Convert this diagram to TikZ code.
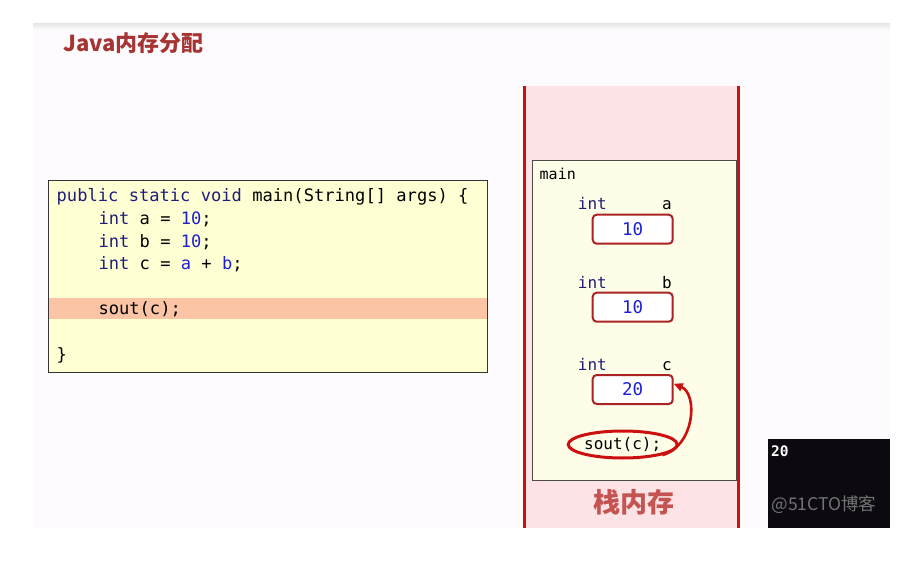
\documentclass[tikz,border=0pt]{standalone}
\usepackage{fontspec}
\setmonofont{DejaVu Sans Mono}
\newfontfamily\cjkfont{Noto Sans CJK SC}
\usetikzlibrary{shapes.geometric, arrows.meta}

\definecolor{slidebg}{RGB}{253,251,254}
\definecolor{titlered}{RGB}{166,52,50}
\definecolor{codebg}{RGB}{255,255,212}
\definecolor{hilite}{RGB}{251,196,164}
\definecolor{kwnavy}{RGB}{30,30,120}
\definecolor{numblue}{RGB}{30,30,215}
\definecolor{stackpink}{RGB}{253,227,229}
\definecolor{stackred}{RGB}{204,16,16}
\definecolor{framebg}{RGB}{254,254,232}
\definecolor{boxred}{RGB}{170,34,34}
\definecolor{labelred}{RGB}{196,84,82}
\definecolor{consolebg}{RGB}{12,10,16}

\newcommand{\kwd}[1]{\textcolor{kwnavy}{#1}}
\newcommand{\lit}[1]{\textcolor{numblue}{#1}}

\begin{document}
\begin{tikzpicture}[x=1pt, y=-1pt,
    code/.style={anchor=base west, inner sep=0pt, font=\ttfamily\fontsize{17.1}{20}\selectfont},
    small/.style={anchor=base west, inner sep=0pt, font=\ttfamily\fontsize{16}{18}\selectfont},
    valbox/.style={draw=boxred, line width=2pt, rounded corners=4pt, fill=white,
        minimum width=80pt, minimum height=29pt, inner sep=0pt,
        font=\ttfamily\fontsize{17.5}{19}\selectfont, text=numblue}]

    % slide
    \useasboundingbox (0,0) rectangle (911,564);
    \fill[white] (0,0) rectangle (911,564);
    \fill[slidebg] (33,24) rectangle (890,527.5);
    \shade[top color=black!9, bottom color=slidebg] (33,24) rectangle (890,30);

    \node[anchor=base west, inner sep=0pt, text=titlered,
        font=\cjkfont\bfseries\fontsize{22}{25}\selectfont] (title) at (63,51.5) {Java内存分配};

    % code
    \node[draw=black!80, fill=codebg, line width=1.4pt, anchor=north west, inner sep=0pt,
        minimum width=439.5pt, minimum height=191.5pt] (codebox) at (47.5,180) {};
    \fill[hilite] (48.5,298) rectangle (486.5,319);

    \node[code] (line1) at (56.5,202) {\kwd{public static void} main(String[] args) \{};
    \node[code] (line2) at (98.3,224.6) {\kwd{int} a = \lit{10};};
    \node[code] (line3) at (98.3,247.2) {\kwd{int} b = \lit{10};};
    \node[code] (line4) at (98.3,269.8) {\kwd{int} c = \lit{a} + \lit{b};};
    \node[code] (line5) at (98.3,315) {sout(c);};
    \node[code] (line6) at (56.5,360) {\}};

    % stack
    \fill[stackpink] (525,86) rectangle (739,527.5);
    \draw[stackred, line width=2.7pt] (524.7,86) -- (524.7,527.5);
    \draw[stackred, line width=2.7pt] (738.7,86) -- (738.7,527.5);

    \node[draw=black!70, fill=framebg, line width=1pt, anchor=north west, inner sep=0pt,
        minimum width=203.5pt, minimum height=319.5pt] (mainframe) at (532,160) {};
    \node[small, font=\ttfamily\fontsize{15}{17}\selectfont] (framename) at (539.5,180) {main};

    \node[small] (inta) at (577.7,210) {\kwd{int}};
    \node[small, anchor=base east] (namea) at (672,210) {a};
    \node[valbox] (vala) at (632.7,229.2) {10};

    \node[small] (intb) at (577.7,288.3) {\kwd{int}};
    \node[small, anchor=base east] (nameb) at (672,288.3) {b};
    \node[valbox] (valb) at (632.7,307.2) {10};

    \node[small] (intc) at (577.7,370.7) {\kwd{int}};
    \node[small, anchor=base east] (namec) at (672,370.7) {c};
    \node[valbox] (valc) at (632.7,389.5) {20};

    \node[ellipse, draw=stackred, line width=3pt, minimum width=97pt, minimum height=27pt,
        inner sep=0pt, font=\ttfamily\fontsize{16}{18}\selectfont] (sout) at (622.7,444.5) {sout(c);};

    \draw[stackred, line width=2.6pt, -{Triangle[length=9pt,width=8pt]}]
        (sout.-15) .. controls (695,446) and (698,394) .. (valc.8);

    \node[text=labelred, font=\cjkfont\bfseries\fontsize{27}{30}\selectfont] (stacklabel) at (633.8,502.5) {栈内存};

    % console
    \node[fill=consolebg, anchor=north west, inner sep=0pt,
        minimum width=122pt, minimum height=88.5pt] (console) at (768,439) {};
    \node[anchor=base west, inner sep=0pt, text=white,
        font=\ttfamily\bfseries\fontsize{14.5}{16}\selectfont] (output) at (771,456.5) {20};
    \node[text=black!55, inner sep=0pt, font=\cjkfont\fontsize{17.5}{19}\selectfont] (mark) at (824,505) {@51CTO博客};
\end{tikzpicture}
\end{document}
